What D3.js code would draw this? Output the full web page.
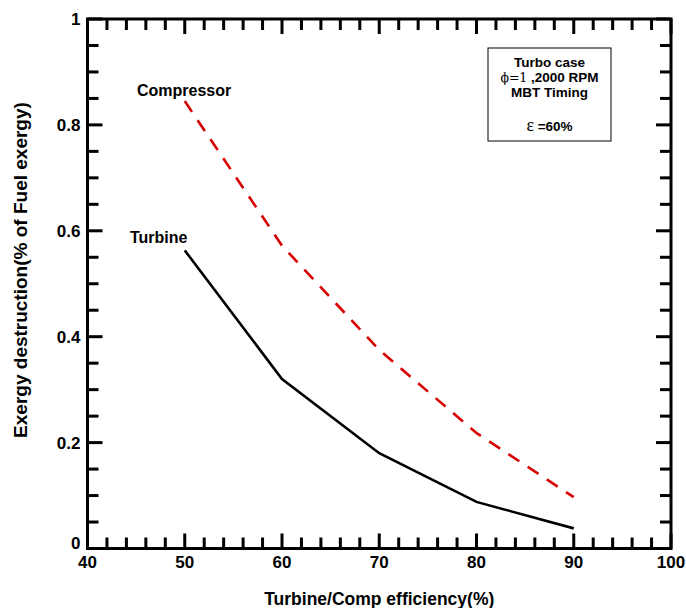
<!DOCTYPE html>
<html>
<head>
<meta charset="utf-8">
<script src="https://cdn.jsdelivr.net/npm/d3@7"></script>
<style>
  body { margin: 0; background: #fff; }
  text { font-family: "Liberation Sans", Arial, Helvetica, sans-serif; font-weight: bold; fill: #000; }
</style>
</head>
<body>
<svg id="chart" width="686" height="608"></svg>
<script>
// ---- data ----
const efficiency = [50, 60, 70, 80, 90];
const compressor = [0.845, 0.572, 0.375, 0.218, 0.097];
const turbine = [0.563, 0.320, 0.180, 0.088, 0.038];
const xTicks = [40, 50, 60, 70, 80, 90, 100];
const yTicks = [0, 0.2, 0.4, 0.6, 0.8, 1];
const yTickLabels = ["0", "0.2", "0.4", "0.6", "0.8", "1"];
const seriesNames = ["Compressor", "Turbine"];
const boxLines = ["Turbo case", "MBT Timing"];

const svg = d3.select("#chart");
const L = 87.5, R = 671, T = 19, B = 548.5;
const x = d3.scaleLinear().domain([40, 100]).range([L, R]);
const y = d3.scaleLinear().domain([0, 1]).range([B, T]);

const xMinor = d3.range(40, 100.01, 2);
const yMinor = d3.range(0, 1.001, 0.05);
const isMajorX = v => Math.abs(v / 10 - Math.round(v / 10)) < 1e-6;
const isMajorY = v => Math.abs(v / 0.2 - Math.round(v / 0.2)) < 1e-6;

// frame
svg.append("rect").attr("x", L).attr("y", T).attr("width", R - L).attr("height", B - T)
  .attr("fill", "none").attr("stroke", "#000").attr("stroke-width", 3);

// ticks (inward)
const ticks = svg.append("g");
const tw = 3, majLen = 15, minLen = 11;
ticks.selectAll("rect.xb").data(xMinor).join("rect").attr("class", "xb")
  .attr("x", d => x(d) - tw / 2).attr("width", tw)
  .attr("y", d => B - (isMajorX(d) ? majLen : minLen)).attr("height", d => (isMajorX(d) ? majLen : minLen))
  .attr("fill", "#000");
ticks.selectAll("rect.xt").data(xMinor).join("rect").attr("class", "xt")
  .attr("x", d => x(d) - tw / 2).attr("width", tw)
  .attr("y", T).attr("height", d => (isMajorX(d) ? majLen : minLen))
  .attr("fill", "#000");
ticks.selectAll("rect.yl").data(yMinor).join("rect").attr("class", "yl")
  .attr("y", d => y(d) - tw / 2).attr("height", tw)
  .attr("x", L).attr("width", d => (isMajorY(d) ? majLen : minLen))
  .attr("fill", "#000");
ticks.selectAll("rect.yr").data(yMinor).join("rect").attr("class", "yr")
  .attr("y", d => y(d) - tw / 2).attr("height", tw)
  .attr("x", d => R - (isMajorY(d) ? majLen : minLen)).attr("width", d => (isMajorY(d) ? majLen : minLen))
  .attr("fill", "#000");

// tick labels
svg.append("g").selectAll("text").data(xTicks).join("text")
  .attr("x", d => x(d)).attr("y", B + 19).attr("text-anchor", "middle")
  .attr("font-size", 17).text(d => d);
svg.append("g").selectAll("text").data(yTicks).join("text")
  .attr("x", L - 7).attr("y", (d, i) => y(d) + (i === 0 ? 0 : 6))
  .attr("text-anchor", "end").attr("font-size", 17).text((d, i) => yTickLabels[i]);

// lines
const line = d3.line().x(d => x(d[0])).y(d => y(d[1]));
svg.append("path")
  .datum(efficiency.map((e, i) => [e, compressor[i]]))
  .attr("d", line).attr("fill", "none").attr("stroke", "#d90000")
  .attr("stroke-width", 2.6).attr("stroke-dasharray", "13,10");
svg.append("path")
  .datum(efficiency.map((e, i) => [e, turbine[i]]))
  .attr("d", line).attr("fill", "none").attr("stroke", "#000")
  .attr("stroke-width", 2.6);

// series labels
svg.append("text").attr("x", 137).attr("y", 96).attr("font-size", 16).text(seriesNames[0]);
svg.append("text").attr("x", 130).attr("y", 243).attr("font-size", 16).text(seriesNames[1]);

// annotation box
svg.append("rect").attr("x", 488).attr("y", 48).attr("width", 123).attr("height", 93)
  .attr("fill", "#fff").attr("stroke", "#000").attr("stroke-width", 1);
const cx = 549.5;
svg.append("text").attr("x", cx).attr("y", 67).attr("text-anchor", "middle").attr("font-size", 13.5).text(boxLines[0]);
const t2 = svg.append("text").attr("x", cx).attr("y", 82).attr("text-anchor", "middle").attr("font-size", 13.5);
t2.append("tspan").attr("font-family", "DejaVu Serif, Liberation Serif, serif").attr("font-weight", "normal").attr("font-size", 12.5).text("\u03D5=1");
t2.append("tspan").text(" ,2000 RPM");
svg.append("text").attr("x", cx).attr("y", 97).attr("text-anchor", "middle").attr("font-size", 13.5).text(boxLines[1]);
const t4 = svg.append("text").attr("x", cx).attr("y", 131).attr("text-anchor", "middle").attr("font-size", 13.5);
t4.append("tspan").attr("font-family", "Liberation Serif, Times New Roman, serif").attr("font-weight", "normal").attr("font-size", 18).text("\u03B5");
t4.append("tspan").text(" =60%");

// axis titles
svg.append("text").attr("x", (L + R) / 2).attr("y", 605).attr("text-anchor", "middle")
  .attr("font-size", 17.5).text("Turbine/Comp efficiency(%)");
svg.append("text").attr("transform", `translate(27,270) rotate(-90)`)
  .attr("text-anchor", "middle").attr("font-size", 19).text("Exergy destruction(% of Fuel exergy)");
</script>
</body>
</html>
